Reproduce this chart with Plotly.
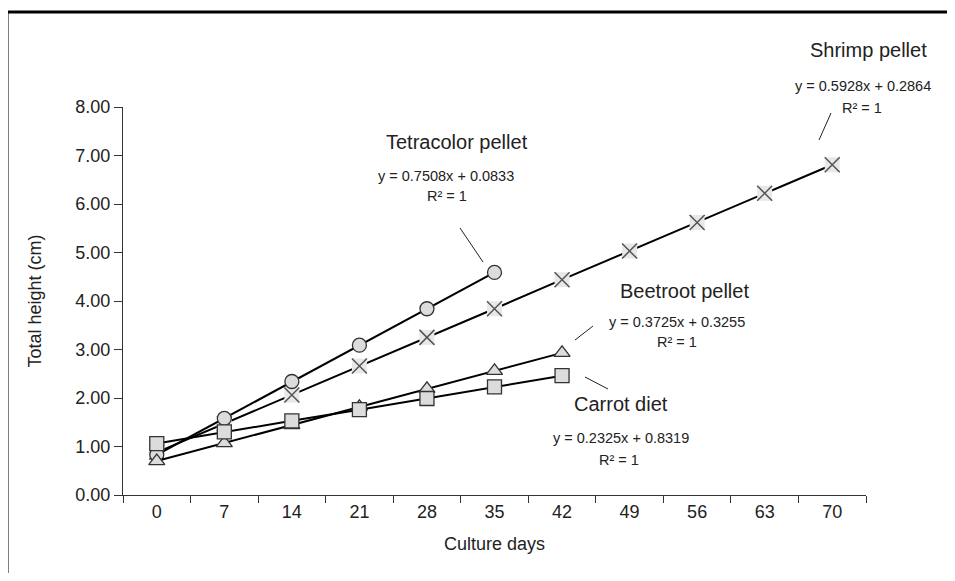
import plotly.graph_objects as go

days = ["0", "7", "14", "21", "28", "35", "42", "49", "56", "63", "70"]
shrimp = [0.88, 1.47, 2.06, 2.66, 3.25, 3.84, 4.44, 5.03, 5.62, 6.22, 6.81]
tetracolor = [0.83, 1.58, 2.34, 3.09, 3.84, 4.59]
beetroot = [0.70, 1.07, 1.44, 1.82, 2.19, 2.56, 2.93]
carrot = [1.06, 1.30, 1.53, 1.76, 1.99, 2.23, 2.46]
y_ticks = [0, 1, 2, 3, 4, 5, 6, 7, 8]

W, H = 955, 581
OFF = 8  # page body margin
L, R, T, B = 123, 866, 107, 495

def px(x, y):
    return (x - L) / (R - L), (B - y) / (B - T)

FONT = "Liberation Sans, Arial"
TXT = "#222222"
MFILL = "#dcdcdc"
MLINE = "#333333"

fig = go.Figure()

fig.add_trace(go.Scatter(x=days, y=shrimp, mode="lines",
                         line=dict(color="black", width=2), showlegend=False))
fig.add_trace(go.Scatter(x=days, y=shrimp, mode="markers",
                         marker=dict(symbol="square", size=15, color="#e8e8e8",
                                     line=dict(width=0)), showlegend=False))
fig.add_trace(go.Scatter(x=days, y=shrimp, mode="markers",
                         marker=dict(symbol="x-thin", size=15,
                                     line=dict(color="#555555", width=1.5)),
                         showlegend=False))

fig.add_trace(go.Scatter(x=days[:len(tetracolor)], y=tetracolor, mode="lines+markers",
                         line=dict(color="black", width=2),
                         marker=dict(symbol="circle", size=14, color=MFILL,
                                     line=dict(color=MLINE, width=1.3)),
                         showlegend=False))
fig.add_trace(go.Scatter(x=days[:len(beetroot)], y=beetroot, mode="lines+markers",
                         line=dict(color="black", width=2),
                         marker=dict(symbol="triangle-up", size=14, color=MFILL,
                                     line=dict(color=MLINE, width=1.3)),
                         showlegend=False))
fig.add_trace(go.Scatter(x=days[:len(carrot)], y=carrot, mode="lines+markers",
                         line=dict(color="black", width=2),
                         marker=dict(symbol="square", size=14, color=MFILL,
                                     line=dict(color=MLINE, width=1.3)),
                         showlegend=False))

annots = [
    ("Tetracolor pellet", 457, 142, 20),
    ("y = 0.7508x + 0.0833", 446, 176, 14.5),
    ("R² = 1", 447, 196, 14.5),
    ("Shrimp pellet", 868, 50, 20),
    ("y = 0.5928x + 0.2864", 863, 86, 14.5),
    ("R² = 1", 862, 108, 14.5),
    ("Beetroot pellet", 684, 291, 20),
    ("y = 0.3725x + 0.3255", 677, 322, 14.5),
    ("R² = 1", 677, 342, 14.5),
    ("Carrot diet", 621, 404, 20),
    ("y = 0.2325x + 0.8319", 621, 438, 14.5),
    ("R² = 1", 619, 460, 14.5),
]
for text, x, y, s in annots:
    ax, ay = px(x, y)
    fig.add_annotation(text=text, x=ax, y=ay, xref="paper", yref="paper",
                       showarrow=False, xanchor="center", yanchor="middle",
                       font=dict(family=FONT, size=s, color=TXT))

leaders = [((460, 228), (483, 262)), ((831, 113), (819, 140)),
           ((593, 326), (575, 340)), ((585, 377), (608, 389))]
for (x0, y0), (x1, y1) in leaders:
    a0, b0 = px(x0, y0)
    a1, b1 = px(x1, y1)
    fig.add_shape(type="line", xref="paper", yref="paper", x0=a0, y0=b0, x1=a1, y1=b1,
                  line=dict(color="#222222", width=1))

# outer frame: only left and top edges are visible in the reference
fx0, fy_bottom = px(7, 1000)
fx1, fy_top = px(2000, 12)
fig.add_shape(type="line", xref="paper", yref="paper", x0=fx0, y0=fy_bottom, x1=fx0, y1=fy_top,
              line=dict(color="black", width=3), layer="below")
fig.add_shape(type="line", xref="paper", yref="paper", x0=fx0, y0=fy_top, x1=fx1, y1=fy_top,
              line=dict(color="black", width=3), layer="below")

fig.update_layout(
    width=W - 2 * OFF, height=H - 2 * OFF,
    margin=dict(l=L - OFF, r=W - R - OFF, t=T - OFF, b=H - B - OFF),
    paper_bgcolor="white", plot_bgcolor="white",
    font=dict(family=FONT, size=18, color=TXT),
    xaxis=dict(type="category", categoryorder="array", categoryarray=days,
               range=[-0.5, len(days) - 0.5], tickson="boundaries",
               ticks="outside", ticklen=7, tickcolor="#333333",
               showline=True, linecolor="#333333", linewidth=1.3,
               showgrid=False, zeroline=False,
               title=dict(text="Culture days", standoff=16,
                          font=dict(family=FONT, size=18, color=TXT)),
               tickfont=dict(family=FONT, size=18, color=TXT)),
    yaxis=dict(range=[0, 8], tickvals=y_ticks, tickformat=".2f",
               ticks="outside", ticklen=8, tickcolor="#333333",
               showline=True, linecolor="#333333", linewidth=1.3,
               showgrid=False, zeroline=False,
               title=dict(text="Total height (cm)", standoff=28,
                          font=dict(family=FONT, size=18, color=TXT)),
               tickfont=dict(family=FONT, size=18, color=TXT)),
)

fig.write_html("out.html")
